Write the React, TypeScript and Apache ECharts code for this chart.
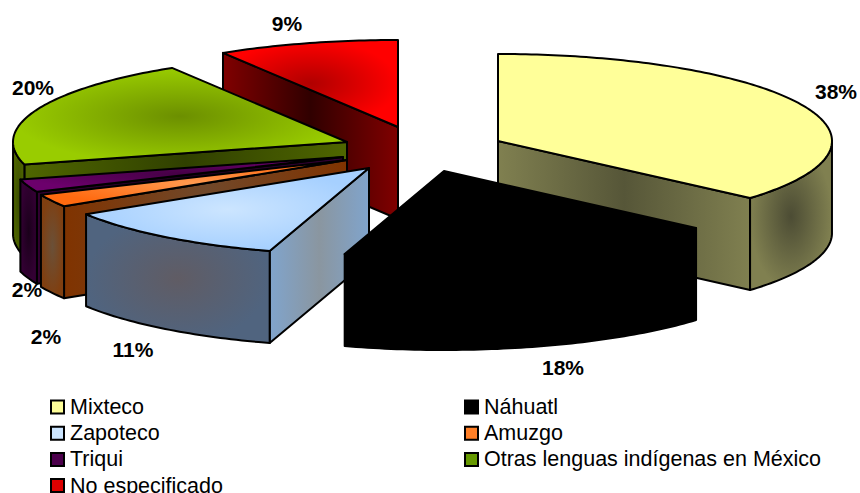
import React, { useEffect, useRef } from "react";
import * as echarts from "echarts";

const categories = ["Mixteco", "Náhuatl", "Zapoteco", "Amuzgo", "Triqui", "Otras lenguas indígenas en México", "No especificado"];
const percents = [38, 18, 11, 2, 2, 20, 9];
// drawing order, back to front (indices into categories)
const drawOrder = [0, 6, 5, 4, 3, 2, 1];
const legendLeft = [0, 2, 4, 6];
const legendRight = [1, 3, 5];

// Pie projection
const CENTER = [398, 151];
const RX = 334;
const RY = 87;
const DEPTH = 92;
// explosion of each slice from the pie's centre, in pixels
const explodeX = [100, 46, -29, -51, -55, -51, 0];
const explodeY = [-10, 20, 17, 9, 6, -9, -24];
const labelX = [836, 563, 133, 46, 27, 33, 287];
const labelY = [91, 367, 349, 336, 289, 87, 23];
// how far the reference's projection pulls the angle at each slice boundary
const pullDeg = [5.8, 4.3, 3.3, 2, 0.6, -0.8, 0];

const topFill = [["#FFFF99", "#FFFF99"], ["#000", "#000"], ["#A6D0FF", "#CCE5FF"], ["#FF6A10", "#FF9A50"], ["#6C006C", "#440044"], ["#99CC00", "#6C8F00"], ["#FF0000", "#B00000"]];
const wallFill = [["#808050", "#565638"], ["#000", "#000"], ["#80A4CC", "#8A96A0"], ["#803300", "#70482A"], ["#330033", "#1C001C"], ["#4F6600", "#304000"], ["#800000", "#300000"]];
const outerFill = [["#808050", "#4C4C34"], ["#000", "#000"], ["#50647F", "#605C64"], ["#803F10", "#6A5038"], ["#330033", "#1A001A"], ["#4F6600", "#3C4E00"], ["#800000", "#400000"]];

const total = percents.reduce((a, b) => a + b, 0);

const warp = (deg: number) => {
  let start = 0;
  let prevPull = 0;
  for (let i = 0; i < percents.length; i++) {
    const end = start + (percents[i] / total) * 360;
    if (deg <= end + 1e-6) {
      const t = (deg - start) / (end - start);
      return deg - (prevPull + (pullDeg[i] - prevPull) * t);
    }
    start = end;
    prevPull = pullDeg[i];
  }
  return deg;
};
const vec = (deg: number) => {
  const r = (warp(deg) * Math.PI) / 180;
  return [RX * Math.sin(r), -RY * Math.cos(r)];
};
const linear = (c: string[]) =>
  new echarts.graphic.LinearGradient(0, 0, 1, 0, [
    { offset: 0, color: c[0] },
    { offset: 0.5, color: c[1] },
    { offset: 1, color: c[0] },
  ]);
const radial = (c: string[]) =>
  new echarts.graphic.RadialGradient(0.5, 0.5, 0.5, [
    { offset: 0, color: c[1] },
    { offset: 1, color: c[0] },
  ]);
const stroke = { stroke: "#000", lineWidth: 2, lineJoin: "round" };

function sliceElements(i: number, value: number) {
  const before = percents.slice(0, i).reduce((a, b) => a + b, 0);
  const a0 = (before / total) * 360;
  const a1 = a0 + (value / total) * 360;
  const ax = CENTER[0] + explodeX[i];
  const ay = CENTER[1] + explodeY[i];
  const arc: number[][] = [];
  const steps = Math.max(4, Math.ceil(a1 - a0));
  for (let s = 0; s <= steps; s++) {
    const v = vec(a0 + ((a1 - a0) * s) / steps);
    arc.push([ax + v[0], ay + v[1]]);
  }
  const children: any[] = [];
  const midV = vec((a0 + a1) / 2);
  const mx = ax + midV[0] / 2;
  const my = ay + midV[1] / 2;
  // cut faces facing the viewer
  [arc[0], arc[arc.length - 1]].forEach((p) => {
    const dx = p[0] - ax;
    if (Math.abs(dx) < 1) return;
    const lineY = ay + ((p[1] - ay) * (mx - ax)) / dx;
    if (my < lineY) {
      children.push({
        type: "polygon",
        shape: { points: [[ax, ay], p, [p[0], p[1] + DEPTH], [ax, ay + DEPTH]] },
        style: { fill: linear(wallFill[i]), ...stroke },
      });
    }
  });
  // outer wall: only the near half of the rim shows
  const near = arc.filter((p) => p[1] >= ay - 0.01);
  if (near.length > 1) {
    const pts = near.concat(near.slice().reverse().map((p) => [p[0], p[1] + DEPTH]));
    children.push({
      type: "polygon",
      shape: { points: pts },
      style: { fill: radial(outerFill[i]), ...stroke },
    });
  }
  // top face
  children.push({
    type: "polygon",
    shape: { points: [[ax, ay], ...arc] },
    style: { fill: radial(topFill[i]), ...stroke },
  });
  // percentage label
  children.push({
    type: "text",
    z2: 10,
    style: {
      text: value + "%",
      x: labelX[i],
      y: labelY[i],
      align: "center",
      verticalAlign: "middle",
      fill: "#000",
      fontFamily: "Liberation Sans",
      fontWeight: "bold",
      fontSize: 21,
    },
  });
  return children;
}

const legendColors = ["#FFFF99", "#000000", "#CCE5FF", "#FF7F27", "#4C004C", "#669900", "#DD0000"];

function legend(left: number, idx: number[]) {
  return {
    left,
    top: 391,
    height: 130,
    padding: 5,
    orient: "vertical",
    selectedMode: false,
    icon: "rect",
    itemWidth: 13,
    itemHeight: 13,
    itemGap: 4.2,
    data: idx.map((i) => categories[i]),
    textStyle: { fontFamily: "Liberation Sans", fontSize: 21.5, color: "#000", padding: [0, 0, 0, 1], lineHeight: 20 },
  };
}

export default function App() {
  const ref = useRef<HTMLDivElement>(null);
  useEffect(() => {
    const chart = echarts.init(ref.current!, null, { renderer: "svg" });
    chart.setOption({
      animation: false,
      backgroundColor: "#fff",
      legend: [legend(45, legendLeft), legend(459, legendRight)],
      series: drawOrder.map((i) => ({
        type: "custom",
        name: categories[i],
        coordinateSystem: "none",
        silent: true,
        clip: false,
        data: [percents[i]],
        itemStyle: { color: legendColors[i], borderColor: "#000", borderWidth: 2 },
        renderItem: (_p: any, api: any) => ({
          type: "group",
          children: sliceElements(i, api.value(0)),
        }),
      })),
    });
    return () => chart.dispose();
  }, []);
  return <div ref={ref} style={{ position: "fixed", left: 0, top: 0, width: 860, height: 493 }} />;
}
